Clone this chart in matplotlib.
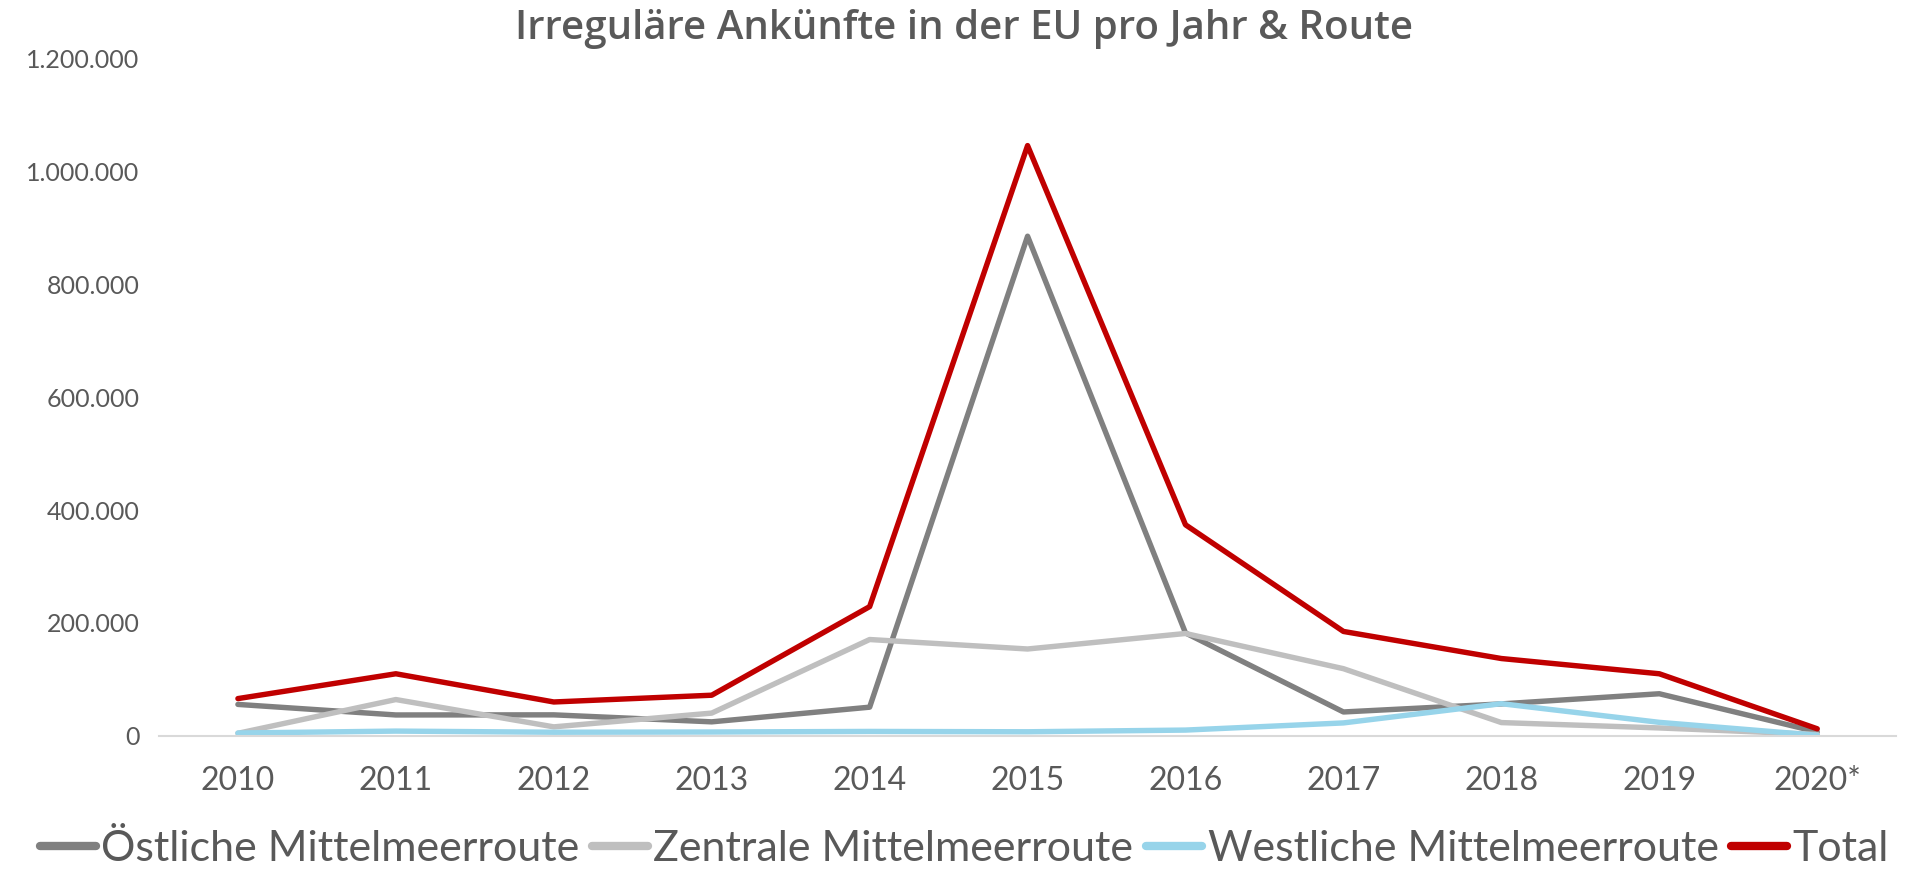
import matplotlib
matplotlib.use("Agg")
import matplotlib.pyplot as plt
from matplotlib.ticker import FuncFormatter

plt.rcParams['font.family'] = ['Lato', 'DejaVu Sans']

# Daten
jahre = ['2010', '2011', '2012', '2013', '2014', '2015', '2016', '2017', '2018', '2019', '2020*']
oestlich = [55700, 37000, 37200, 24800, 50800, 885400, 182300, 42300, 56600, 74600, 7000]
zentral = [4500, 64300, 15900, 40300, 170700, 153900, 181400, 119000, 23500, 14000, 2500]
westlich = [5000, 8400, 6400, 6800, 7800, 7200, 10200, 22900, 57000, 23900, 1000]
total = [66000, 110000, 60000, 72000, 229000, 1046000, 374000, 185000, 137000, 110000, 12500]

grau = '#595959'

fig = plt.figure(figsize=(19.29, 8.76), dpi=100)
ax = fig.add_axes([0.0824, 0.160, 0.9006, 0.773])

x = range(len(jahre))
lw = 3.9
stil = dict(lw=lw, solid_joinstyle='round', solid_capstyle='round')
ax.plot(x, oestlich, color='#808080', label='Östliche Mittelmeerroute', **stil)
ax.plot(x, zentral, color='#bfbfbf', label='Zentrale Mittelmeerroute', **stil)
ax.plot(x, westlich, color='#97d4ea', label='Westliche Mittelmeerroute', **stil)
ax.plot(x, total, color='#c00000', label='Total', **stil)

ax.set_xlim(-0.5, len(jahre) - 0.5)
ax.set_ylim(0, 1200000)
ax.set_yticks(range(0, 1200001, 200000))
ax.yaxis.set_major_formatter(FuncFormatter(lambda v, p: f'{int(v):,}'.replace(',', '.')))
ax.set_xticks(list(x))
ax.set_xticklabels(jahre)

for s in ['top', 'right', 'left']:
    ax.spines[s].set_visible(False)
ax.spines['bottom'].set_color('#d9d9d9')
ax.spines['bottom'].set_linewidth(1.5)
ax.tick_params(axis='both', length=0, colors=grau)
ax.tick_params(axis='x', pad=22, labelsize=23)
ax.tick_params(axis='y', pad=14, labelsize=18)

fig.suptitle('Irreguläre Ankünfte in der EU pro Jahr & Route', x=0.50, y=0.99,
             fontsize=29, fontweight='semibold', family=['Open Sans', 'DejaVu Sans'], color=grau)

leg = fig.legend(loc='lower center', bbox_to_anchor=(0.5, -0.035), ncol=4, frameon=False,
                 prop={'size': 31}, handlelength=1.3,
                 handletextpad=0.12, columnspacing=0.3, labelcolor=grau)
for h in leg.get_lines():
    h.set_linewidth(6)
    h.set_solid_capstyle('round')

fig.savefig('out.png', dpi=100)
